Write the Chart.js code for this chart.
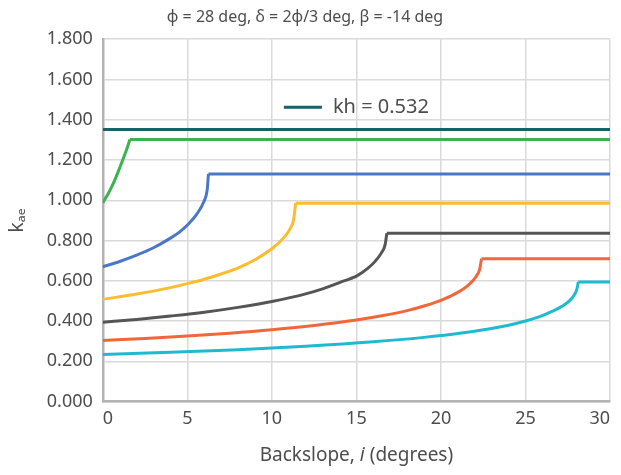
<!DOCTYPE html>
<html lang="en">
<head>
    <meta charset="UTF-8">
    <title>kae vs backslope</title>
    <script src="https://cdn.jsdelivr.net/npm/chart.js"></script>
    <style>
        body { margin: 0; background: #fff; }
        #wrap { width: 621px; height: 475px; }
    </style>
</head>
<body>
<div id="wrap">
    <canvas id="kaeChart" width="621" height="475"></canvas>
</div>

<script>
  // Values (backslope i in degrees, kae)
  const kh0_i = [0, 4, 8, 12, 16, 19, 21, 23, 24, 25, 26, 26.6, 27.15, 27.6, 27.9, 28.05, 28.12, 30];
  const kh0_k = [0.234, 0.245, 0.258, 0.275, 0.297, 0.319, 0.338, 0.363, 0.379, 0.400, 0.427, 0.449, 0.473, 0.500, 0.532, 0.561, 0.594, 0.594];

  const kh1_i = [0, 2.5, 5, 7.5, 10, 12.5, 15, 16.5, 18, 19, 20, 21.05, 21.57, 21.88, 22.09, 22.29, 22.4, 30];
  const kh1_k = [0.304, 0.314, 0.326, 0.340, 0.357, 0.378, 0.405, 0.426, 0.452, 0.475, 0.503, 0.545, 0.575, 0.600, 0.623, 0.657, 0.710, 0.710];

  const kh2_i = [0, 2, 4, 6, 8, 10, 12, 13, 14, 15.05, 15.67, 16.08, 16.49, 16.7, 16.8, 30];
  const kh2_k = [0.394, 0.408, 0.425, 0.444, 0.468, 0.497, 0.535, 0.560, 0.591, 0.626, 0.662, 0.694, 0.740, 0.780, 0.836, 0.836];

  const kh3_i = [0, 2, 4, 5, 6, 7, 8.05, 9.05, 10.07, 10.68, 11.1, 11.3, 11.4, 30];
  const kh3_k = [0.508, 0.534, 0.566, 0.586, 0.608, 0.634, 0.666, 0.707, 0.764, 0.812, 0.862, 0.910, 0.985, 0.985];

  const kh4_i = [0, 1, 2, 3, 4, 4.55, 5.05, 5.56, 5.98, 6.17, 6.25, 30];
  const kh4_k = [0.670, 0.696, 0.727, 0.764, 0.812, 0.843, 0.881, 0.931, 0.994, 1.049, 1.131, 1.131];

  const kh5_i = [0, 0.3, 0.6, 0.9, 1.2, 1.45, 1.6, 30];
  const kh5_k = [0.988, 1.030, 1.080, 1.140, 1.205, 1.262, 1.302, 1.302];

  const kh532_i = [0, 30];
  const kh532_k = [1.352, 1.352];

  const seriesLabels = ['kh = 0.532', 'kh = 0.5', 'kh = 0.4', 'kh = 0.3', 'kh = 0.2', 'kh = 0.1', 'kh = 0'];
  const seriesColors = ['#17616b', '#3bb34f', '#4a78c8', '#fdbb2f', '#555555', '#f2673a', '#1fbad0'];
  const seriesI = [kh532_i, kh5_i, kh4_i, kh3_i, kh2_i, kh1_i, kh0_i];
  const seriesK = [kh532_k, kh5_k, kh4_k, kh3_k, kh2_k, kh1_k, kh0_k];

  const FONT = "'Noto Sans', sans-serif";
  const TEXT = '#4d4d4d';
  const xTitlePad = { top: 9, bottom: 8 };
  const xTitleSize = 19;

  // each curve: a smooth rising part plus the flat part after the peak
  const datasets = [];
  seriesLabels.forEach((label, n) => {
    const pts = seriesI[n].map((x, j) => ({ x: x, y: seriesK[n][j] }));
    const base = {
      borderColor: seriesColors[n],
      backgroundColor: seriesColors[n],
      borderWidth: 3,
      pointRadius: 0,
      fill: false
    };
    if (pts.length > 2) {
      datasets.push(Object.assign({}, base, {
        label: label, data: pts.slice(0, -1), cubicInterpolationMode: 'monotone'
      }));
      datasets.push(Object.assign({}, base, {
        label: label + ' (flat)', data: pts.slice(-2), tension: 0
      }));
    } else {
      datasets.push(Object.assign({}, base, { label: label, data: pts, tension: 0 }));
    }
  });

  // x axis title with an italic "i"
  const xTitlePlugin = {
    id: 'xTitle',
    afterDraw(chart) {
      const ctx = chart.ctx;
      const s = chart.scales.x;
      const area = chart.chartArea;
      const parts = [['Backslope, ', 'normal'], ['i', 'italic'], [' (degrees)', 'normal']];
      ctx.save();
      ctx.fillStyle = TEXT;
      ctx.textBaseline = 'middle';
      ctx.textAlign = 'left';
      let total = 0;
      parts.forEach(p => {
        ctx.font = p[1] + ' ' + xTitleSize + 'px ' + FONT;
        total += ctx.measureText(p[0]).width;
      });
      let x = (area.left + area.right) / 2 - total / 2;
      const y = s.bottom - xTitlePad.bottom - xTitleSize * 1.2 / 2;
      parts.forEach(p => {
        ctx.font = p[1] + ' ' + xTitleSize + 'px ' + FONT;
        ctx.fillText(p[0], x, y);
        x += ctx.measureText(p[0]).width;
      });
      ctx.restore();
    }
  };

  // single-entry legend inside the plot, centred horizontally
  const innerLegend = {
    id: 'innerLegend',
    afterDatasetsDraw(chart) {
      const ds = chart.data.datasets[0];
      const ctx = chart.ctx;
      const area = chart.chartArea;
      ctx.save();
      ctx.font = '20px ' + FONT;
      const tw = ctx.measureText(ds.label).width;
      const lineW = 38, gap = 11;
      const total = lineW + gap + tw;
      const x0 = (area.left + area.right) / 2 - total / 2;
      const y = area.top + 68;
      ctx.strokeStyle = ds.borderColor;
      ctx.lineWidth = 3;
      ctx.beginPath();
      ctx.moveTo(x0, y);
      ctx.lineTo(x0 + lineW, y);
      ctx.stroke();
      ctx.fillStyle = TEXT;
      ctx.textBaseline = 'middle';
      ctx.fillText(ds.label, x0 + lineW + gap, y);
      ctx.restore();
    }
  };

  Chart.defaults.font.family = FONT;
  Chart.defaults.color = TEXT;

  new Chart(document.getElementById('kaeChart'), {
    type: 'line',
    data: { datasets: datasets },
    plugins: [xTitlePlugin, innerLegend],
    options: {
      responsive: false,
      animation: false,
      layout: { padding: { left: 0, right: 11, top: 0, bottom: 0 } },
      plugins: {
        title: {
          display: true,
          text: 'ϕ = 28 deg, δ = 2ϕ/3 deg, β = -14 deg',
          font: { size: 16, weight: 'normal' },
          color: TEXT,
          padding: { top: 8, bottom: 12 }
        },
        legend: { display: false },
        tooltip: { enabled: false }
      },
      scales: {
        x: {
          type: 'linear',
          min: 0,
          max: 30,
          ticks: { stepSize: 5, align: 'inner', padding: 6, font: { size: 18 }, color: TEXT },
          grid: { color: '#dadada', lineWidth: 1.5, drawTicks: false },
          border: { color: '#b3b3b3', width: 2.5 },
          title: {
            display: true,
            text: 'Backslope, i (degrees)',
            color: 'rgba(0,0,0,0)',
            font: { size: xTitleSize },
            padding: xTitlePad
          }
        },
        y: {
          min: 0,
          max: 1.8,
          ticks: {
            stepSize: 0.2,
            padding: 10,
            font: { size: 18 },
            color: TEXT,
            callback: v => v.toFixed(3)
          },
          grid: { color: '#dadada', lineWidth: 1.5, drawTicks: false },
          border: { color: '#b3b3b3', width: 2.5 },
          title: {
            display: true,
            text: 'kₐₑ',
            font: { size: 19 },
            color: TEXT,
            padding: { top: 6, bottom: 8 }
          }
        }
      }
    }
  });
</script>
</body>
</html>
